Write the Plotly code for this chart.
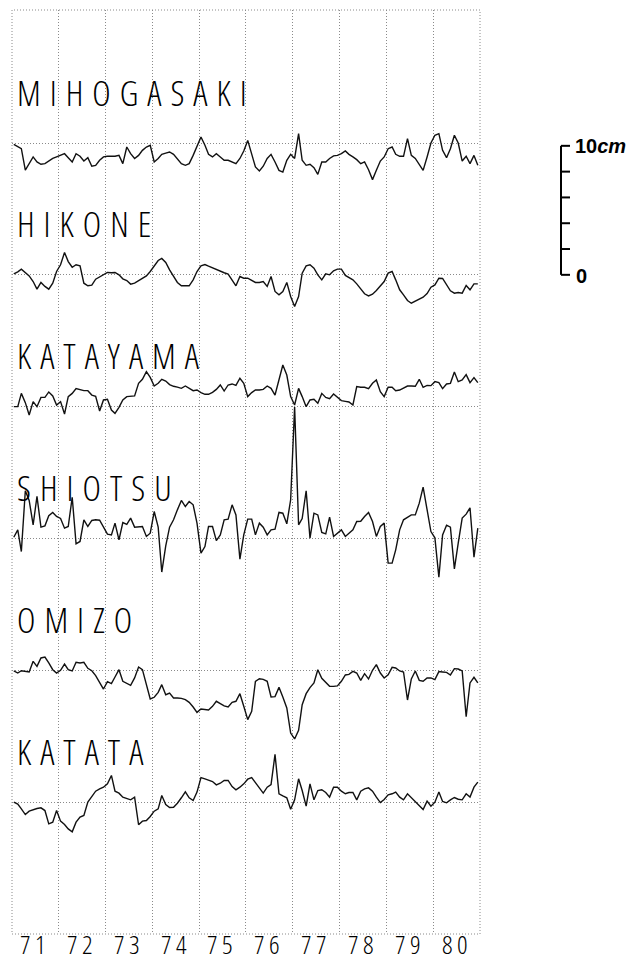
import plotly.graph_objects as go
import pandas as pd

# ---------------- data (cm, relative to each station's mean level) ----------------
stations = ["MIHOGASAKI", "HIKONE", "KATAYAMA", "SHIOTSU", "OMIZO", "KATATA"]

mihogasaki = [-0.1,-0.3,-0.44,-2.1,-1.6,-1.08,-1.47,-1.65,-1.6,-1.4,
 -1.2,-1.08,-0.98,-0.83,-1.14,-1.47,-0.83,-1.03,-1.4,-1.14,
 -1.8,-1.73,-1.34,-1.08,-1.03,-1.03,-1.03,-0.96,-1.6,-0.31,
 -0.83,-1.2,-0.96,-0.57,-0.31,-0.18,-1.47,-1.2,-0.88,-0.78,
 -0.7,-0.88,-1.2,-1.6,-1.73,-1.6,-0.96,-0.18,0.47,-0.18,
 -0.88,-1.08,-0.83,-1.08,-1.34,-1.34,-1.47,-1.6,-1.2,-0.62,
 0.2,-0.9,-1.86,-2.17,-1.8,-1.2,-0.88,-1.47,-2.12,-2.25,
 -1.34,-0.88,-1.2,0.72,-1.34,-1.73,-1.65,-1.91,-2.43,-1.47,
 -1.47,-1.2,-1.0,-0.96,-0.83,-0.62,-0.88,-1.08,-1.29,-1.6,
 -1.47,-2.07,-2.84,-2.12,-1.4,-1.08,-0.44,-0.31,-0.88,-1.03,
 -1.03,0.34,-0.96,-1.2,-1.68,-2.12,-1.08,0.0,0.6,0.72,
 -0.57,-1.14,-0.44,0.6,0.0,-1.4,-1.03,-1.6,-0.96,-1.73]

hikone = [0.08,0.23,0.44,0.18,-0.08,-0.52,-1.11,-0.59,-0.9,-1.11,
 -0.65,0.26,0.78,1.73,1.03,0.59,0.78,0.7,-0.65,-0.85,
 -0.8,-0.34,-0.18,0.0,0.18,0.16,0.18,0.0,-0.31,-0.44,
 -0.72,-0.65,-0.44,-0.28,-0.08,0.26,0.7,1.11,1.27,0.96,
 0.39,-0.13,-0.59,-0.85,-0.85,-0.85,-0.39,0.26,0.7,0.8,
 0.67,0.54,0.39,0.23,0.16,0.05,-0.39,-0.85,-0.13,-0.26,
 -0.26,-0.44,-0.59,-0.59,-0.52,-0.9,-0.13,-1.29,-1.55,-1.29,
 -0.59,-1.68,-2.45,-1.68,0.13,0.7,0.78,0.52,0.0,-0.39,
 0.08,0.0,0.31,0.44,0.44,-0.05,-0.23,-0.39,-0.7,-1.11,
 -1.47,-1.63,-1.5,-1.21,-0.85,-0.52,0.13,0.26,-0.39,-1.16,
 -1.55,-1.99,-2.2,-2.04,-1.89,-1.73,-1.45,-0.96,-0.78,-0.26,
 -0.28,-0.8,-1.24,-1.42,-1.37,-1.42,-0.83,-1.16,-0.7,-0.7]

katayama = [0.0,0.0,1.03,0.31,-0.65,0.39,0.0,0.72,0.72,1.14,
 0.83,0.13,0.39,-0.57,0.78,1.03,1.4,1.29,1.24,1.24,
 0.9,0.8,-0.34,0.52,0.57,-0.26,-0.52,-0.05,0.52,0.78,
 0.78,0.83,1.81,2.12,2.71,2.27,1.6,1.81,2.12,1.99,
 1.71,1.58,1.52,1.42,1.6,1.4,1.24,1.29,1.09,0.96,
 0.96,1.11,1.34,1.68,1.21,1.68,1.76,1.65,2.2,1.81,
 0.78,1.09,1.29,1.29,1.34,1.6,1.42,0.9,2.07,3.23,
 2.45,0.78,0.13,1.42,0.78,0.0,0.52,0.57,0.26,1.03,
 0.72,0.62,0.98,0.72,0.47,0.41,0.36,0.13,1.55,1.5,
 1.5,1.4,1.81,2.07,1.16,0.78,1.5,1.5,1.24,1.29,
 1.42,1.6,1.6,1.58,2.12,1.5,1.65,1.63,1.94,1.86,
 1.4,1.76,1.81,2.69,1.94,2.07,2.48,1.86,2.25,1.86]

shiotsu = [0.1,0.67,-1.01,3.7,2.95,1.06,3.26,0.88,0.98,1.76,
 2.02,1.71,1.55,0.8,0.93,3.2,-0.41,-0.23,1.45,0.93,
 1.4,1.45,1.42,0.93,0.34,0.28,1.19,-0.1,1.24,1.09,
 1.58,0.88,0.93,0.93,0.16,0.41,2.09,0.88,-2.6,-0.57,
 0.88,1.45,2.22,2.95,2.48,2.87,2.61,1.19,-1.14,-0.62,
 0.93,0.93,-0.16,0.28,1.45,1.5,2.61,1.83,-1.6,0.28,
 1.5,1.5,0.28,1.19,0.88,0.28,0.67,0.72,2.02,1.96,
 1.14,3.0,10.2,1.06,1.55,3.7,0.03,1.96,1.83,0.47,
 0.36,1.65,0.16,0.41,0.67,0.16,0.39,0.67,1.32,1.34,
 1.71,2.02,1.32,0.16,0.93,1.19,-1.91,-1.91,-0.88,0.67,
 1.45,1.63,1.83,1.83,2.74,3.98,2.35,0.54,0.05,-3.0,
 0.28,1.03,0.88,-2.35,-0.36,1.58,1.89,2.38,-1.45,0.8]

omizo = [-0.05,-0.21,-0.03,-0.1,-0.13,0.7,0.31,0.96,1.03,0.57,
 0.05,-0.21,0.0,0.49,0.05,-0.05,0.62,0.57,0.62,0.16,
 -0.03,-0.41,-0.98,-1.45,-0.88,-1.03,-0.52,0.05,-0.85,-0.98,
 -1.16,-0.59,0.26,0.05,-1.19,-2.22,-2.09,-1.71,-1.11,-1.89,
 -1.76,-2.14,-2.14,-2.17,-2.27,-2.48,-2.84,-3.26,-3.0,-3.05,
 -3.07,-2.79,-2.4,-2.58,-2.76,-2.84,-2.48,-2.4,-1.81,-2.79,
 -3.82,-3.18,-0.85,-0.65,-0.7,-0.85,-2.07,-2.04,-1.32,-2.07,
 -2.92,-4.86,-5.32,-4.65,-2.66,-1.81,-1.34,-0.98,0.05,-0.62,
 -0.98,-1.24,-1.24,-1.21,-0.85,-0.36,-0.31,-0.08,-0.21,-0.78,
 -0.26,-0.67,0.0,0.44,-0.21,-0.59,-0.34,0.23,0.18,-0.05,
 -0.13,-2.3,-0.67,-0.05,-0.78,-0.85,-0.59,-0.59,-0.72,-0.1,
 -0.13,-0.16,-0.36,0.13,0.1,-0.05,-3.6,-0.98,-0.54,-0.98]

katata = [0.0,-0.15,-0.52,-0.96,-0.7,-0.57,-0.49,-0.44,-0.65,-1.68,
 -1.55,-0.65,-1.47,-1.73,-2.07,-2.3,-1.55,-1.16,-1.03,0.0,
 0.39,0.85,1.03,1.16,1.42,2.07,0.85,0.7,0.39,0.26,
 0.18,0.39,-1.75,-1.47,-1.42,-1.11,-0.7,-0.52,0.52,-0.18,
 -0.41,-0.39,-0.08,0.34,0.8,0.34,0.13,0.78,1.91,1.81,
 1.71,1.6,1.34,1.47,1.68,1.68,1.21,0.96,1.16,1.42,
 1.78,1.91,1.52,1.06,0.7,1.16,1.37,3.7,0.65,0.49,
 0.34,-0.55,0.18,1.81,0.9,-0.31,1.42,0.18,0.9,0.96,
 0.75,0.39,1.16,1.16,0.85,0.65,0.75,0.75,0.18,0.85,
 1.03,1.11,0.85,0.39,-0.03,0.21,0.57,0.65,0.78,0.39,
 0.18,0.65,0.34,0.0,-0.34,-0.57,0.08,-0.31,0.0,0.78,
 0.05,-0.05,0.18,0.36,0.23,0.18,0.65,0.39,1.16,1.55]

series = [mihogasaki, hikone, katayama, shiotsu, omizo, katata]

year_labels = ["71", "72", "73", "74", "75", "76", "77", "78", "79", "80"]
scale_ticks = [0, 2, 4, 6, 8, 10]          # cm
scale_labels = {0: "0", 10: "10<i>cm</i>"}

# ---------------- layout constants ----------------
months = pd.date_range("1971-01-01", periods=120, freq="MS") + pd.Timedelta(days=14)
SPACING = 10.22                              # cm between station base lines
Y_TOP = 71.63
PLOT_H = 924                                 # px height of plotting area
baselines = [SPACING * (6 - i) for i in range(6)]
LABEL_GAP = 3.95
FONT_PLOT = "Open Sans"
GRID = "#8a8a8a"
GRID_DASH = "1px,2px"


def plotter(text, spacing):
    return (f'<span style="font-stretch:75%;letter-spacing:{spacing}px">'
            f'{text}</span>')


fig = go.Figure()
for name, vals, base in zip(stations, series, baselines):
    fig.add_trace(go.Scatter(
        x=months, y=[base + v for v in vals], mode="lines", name=name,
        line=dict(color="#111111", width=1.4), showlegend=False,
        hoverinfo="skip"))
    fig.add_annotation(
        x=0.006, xref="paper", y=base + LABEL_GAP, yref="y",
        xanchor="left", yanchor="middle", showarrow=False,
        text=plotter(name, 9),
        font=dict(family=FONT_PLOT, size=35, weight=300, color="black"))

# year labels centred in each year interval, at the foot of the figure
for lab in year_labels:
    fig.add_annotation(
        x=pd.Timestamp(f"19{lab}-07-02"), xref="x", y=-29 / PLOT_H, yref="paper",
        xanchor="center", yanchor="bottom", showarrow=False, borderpad=0,
        text=plotter(lab, 4.5),
        font=dict(family=FONT_PLOT, size=26, weight=300, color="black"))

fig.update_layout(
    width=643, height=963,
    margin=dict(l=12, r=163, t=10, b=29),
    plot_bgcolor="white", paper_bgcolor="white",
    xaxis=dict(
        type="date", automargin=False,
        range=["1971-01-01", "1981-01-01"],
        dtick="M12", tick0="1971-01-01", showticklabels=False,
        ticks="", showgrid=True, zeroline=False, showline=False,
        gridcolor=GRID, gridwidth=1, griddash=GRID_DASH,
    ),
    yaxis=dict(
        range=[0, Y_TOP], tickvals=baselines, showticklabels=False, automargin=False,
        showgrid=True, gridcolor=GRID, gridwidth=1, griddash=GRID_DASH,
        zeroline=False, showline=False, ticks="",
    ),
)

# dotted frame
fig.add_shape(type="rect", xref="paper", yref="paper", x0=0, x1=1, y0=0, y1=1,
              line=dict(color=GRID, width=1, dash=GRID_DASH))

# 10 cm scale bar (drawn in data units of the y axis, next to HIKONE level)
scale_base = baselines[1]
BAR_X = 1.1731
TICK_X = 1.1923
fig.add_shape(type="line", xref="paper", yref="y", x0=BAR_X, x1=BAR_X,
              y0=scale_base + scale_ticks[0], y1=scale_base + scale_ticks[-1],
              line=dict(color="black", width=2))
for t in scale_ticks:
    fig.add_shape(type="line", xref="paper", yref="y", x0=BAR_X, x1=TICK_X,
                  y0=scale_base + t, y1=scale_base + t,
                  line=dict(color="black", width=2))
    if t in scale_labels:
        fig.add_annotation(x=1.199 if t else 1.2, xref="paper",
                           y=scale_base + t - (0.12 if t == 0 else 0), yref="y",
                           xanchor="left", yanchor="middle", showarrow=False,
                           text=scale_labels[t],
                           font=dict(family="Liberation Sans", size=20,
                                     color="black", weight="bold"))

fig.write_html("out.html")
